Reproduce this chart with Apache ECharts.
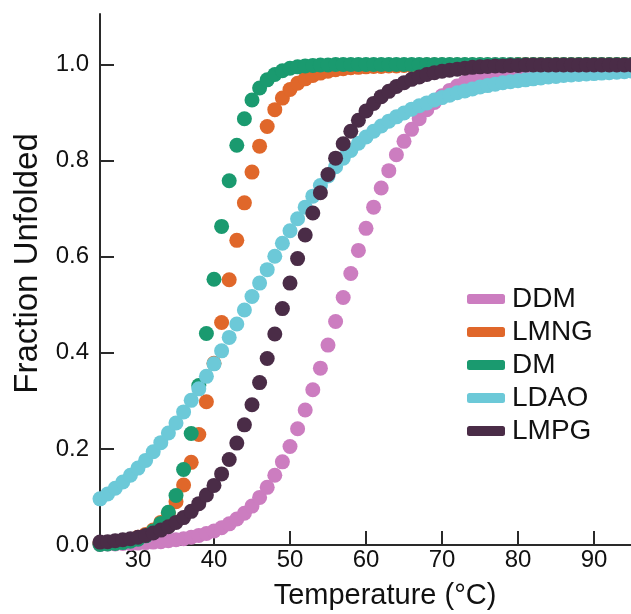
<!DOCTYPE html>
<html>

<head>
    <meta charset="utf-8">
    <title>Fraction Unfolded</title>
    <script src="https://cdn.jsdelivr.net/npm/echarts@6/dist/echarts.min.js"></script>
    <style>
        html, body { margin: 0; padding: 0; background: #fff; }
        #main { width: 631px; height: 614px; }
    </style>
</head>

<body>
    <div id="main"></div>

    <script type="text/javascript">
        // temperature (°C), one reading per degree
        var temps = [25, 26, 27, 28, 29, 30, 31, 32, 33, 34, 35, 36, 37, 38, 39, 40, 41, 42, 43, 44,
            45, 46, 47, 48, 49, 50, 51, 52, 53, 54, 55, 56, 57, 58, 59, 60, 61, 62, 63, 64,
            65, 66, 67, 68, 69, 70, 71, 72, 73, 74, 75, 76, 77, 78, 79, 80, 81, 82, 83, 84,
            85, 86, 87, 88, 89, 90, 91, 92, 93, 94, 95];

        var ddm = [0.001, 0.002, 0.002, 0.003, 0.003, 0.004, 0.005, 0.006, 0.007, 0.009,
            0.011, 0.013, 0.016, 0.020, 0.024, 0.029, 0.036, 0.044, 0.054, 0.066,
            0.081, 0.099, 0.120, 0.145, 0.173, 0.205, 0.242, 0.281, 0.323, 0.368,
            0.416, 0.465, 0.515, 0.565, 0.613, 0.659, 0.703, 0.743, 0.779, 0.812,
            0.840, 0.865, 0.887, 0.906, 0.921, 0.935, 0.946, 0.955, 0.963, 0.970,
            0.975, 0.979, 0.983, 0.986, 0.989, 0.991, 0.992, 0.994, 0.995, 0.996,
            0.997, 0.997, 0.998, 0.998, 0.999, 0.999, 0.999, 0.999, 0.999, 1.0, 1.0];

        var lmng = [0.003, 0.004, 0.005, 0.008, 0.011, 0.016, 0.022, 0.031, 0.047, 0.066,
            0.090, 0.125, 0.172, 0.230, 0.298, 0.378, 0.463, 0.552, 0.634, 0.712,
            0.776, 0.830, 0.871, 0.906, 0.930, 0.948, 0.961, 0.970, 0.977, 0.982,
            0.986, 0.989, 0.991, 0.993, 0.994, 0.995, 0.996, 0.996, 0.997, 0.997,
            0.998, 0.998, 0.998, 0.999, 0.999, 0.999, 0.999, 0.999, 0.999, 0.999,
            0.999, 0.999, 0.999, 0.999, 0.999, 1.0, 1.0, 1.0, 1.0, 1.0,
            1.0, 1.0, 1.0, 1.0, 1.0, 1.0, 1.0, 1.0, 1.0, 1.0, 1.0];

        var dm = [0.001, 0.002, 0.003, 0.005, 0.008, 0.012, 0.019, 0.029, 0.045, 0.068,
            0.103, 0.157, 0.232, 0.332, 0.440, 0.553, 0.663, 0.758, 0.832, 0.887,
            0.926, 0.951, 0.968, 0.979, 0.987, 0.992, 0.995, 0.997, 0.998, 0.999,
            0.999, 1.0, 1.0, 1.0, 1.0, 1.0, 1.0, 1.0, 1.0, 1.0,
            1.0, 1.0, 1.0, 1.0, 1.0, 1.0, 1.0, 1.0, 1.0, 1.0,
            1.0, 1.0, 1.0, 1.0, 1.0, 1.0, 1.0, 1.0, 1.0, 1.0,
            1.0, 1.0, 1.0, 1.0, 1.0, 1.0, 1.0, 1.0, 1.0, 1.0, 1.0];

        var ldao = [0.096, 0.106, 0.118, 0.131, 0.145, 0.160, 0.176, 0.194, 0.213, 0.233,
            0.254, 0.277, 0.301, 0.325, 0.351, 0.377, 0.404, 0.432, 0.460, 0.489,
            0.517, 0.545, 0.573, 0.601, 0.628, 0.654, 0.679, 0.703, 0.726, 0.748,
            0.768, 0.787, 0.805, 0.821, 0.836, 0.849, 0.861, 0.872, 0.882, 0.891,
            0.899, 0.907, 0.914, 0.920, 0.926, 0.931, 0.936, 0.941, 0.945, 0.949,
            0.953, 0.956, 0.959, 0.962, 0.964, 0.966, 0.968, 0.970, 0.972, 0.974,
            0.975, 0.977, 0.978, 0.979, 0.980, 0.981, 0.982, 0.983, 0.984, 0.985, 0.986];

        var lmpg = [0.006, 0.007, 0.009, 0.011, 0.013, 0.016, 0.020, 0.025, 0.031, 0.038,
            0.047, 0.057, 0.070, 0.086, 0.104, 0.124, 0.148, 0.178, 0.212, 0.250,
            0.292, 0.338, 0.388, 0.439, 0.492, 0.545, 0.596, 0.645, 0.691, 0.733,
            0.771, 0.805, 0.835, 0.861, 0.884, 0.903, 0.919, 0.933, 0.944, 0.954,
            0.962, 0.969, 0.974, 0.979, 0.983, 0.986, 0.988, 0.990, 0.992, 0.994,
            0.995, 0.996, 0.997, 0.997, 0.998, 0.998, 0.999, 0.999, 0.999, 0.999,
            0.999, 0.999, 0.999, 0.999, 0.999, 0.999, 0.999, 0.999, 0.999, 0.999, 0.999];

        var names = ['DDM', 'LMNG', 'DM', 'LDAO', 'LMPG'];
        var colors = ['#cc7dc0', '#e0672a', '#1a9a6f', '#6cc9d8', '#4a2c47'];
        var xTicks = [30, 40, 50, 60, 70, 80, 90, 100];
        var yTicks = [0, 0.2, 0.4, 0.6, 0.8, 1.0];

        var chart = echarts.init(document.getElementById('main'), null, { renderer: 'canvas' });
        var font = '"Liberation Sans", Arial, sans-serif';

        function pairs(vals) {
            return temps.map(function (t, i) { return [t, vals[i]]; });
        }

        var allVals = [ddm, lmng, dm, ldao, lmpg];
        var series = names.map(function (n, k) {
            return {
                name: n,
                type: 'scatter',
                data: pairs(allVals[k]),
                symbol: 'circle',
                symbolSize: 15,
                itemStyle: { color: colors[k], opacity: 1 },
                clip: true,
                silent: true
            };
        });

        var axisLineStyle = { color: '#2a2a2a', width: 2 };

        var option = {
            animation: false,
            backgroundColor: '#fff',
            // the plot runs on past the right edge of the picture (axis goes to 100)
            grid: { left: 100, top: 14, right: -39, bottom: 69, outerBoundsMode: 'none', containLabel: false },
            legend: {
                orient: 'vertical',
                left: 467,
                top: 285,
                padding: 0,
                icon: 'roundRect',
                itemWidth: 38,
                itemHeight: 10,
                itemGap: 5,
                data: names,
                textStyle: { fontFamily: font, fontSize: 28, color: '#111', lineHeight: 26, padding: [0, 0, 0, 2] }
            },
            xAxis: {
                type: 'value',
                min: 25,
                max: 100,
                splitLine: { show: false },
                axisLine: { lineStyle: axisLineStyle },
                axisTick: { inside: true, length: 14, lineStyle: axisLineStyle, customValues: xTicks },
                axisLabel: { customValues: xTicks, margin: 3, fontFamily: font, fontSize: 24, color: '#111' },
                name: 'Temperature (°C)',
                nameLocation: 'middle',
                nameGap: 36,
                nameTextStyle: { fontFamily: font, fontSize: 29, color: '#111' }
            },
            yAxis: {
                type: 'value',
                min: 0,
                max: 1.105,
                splitLine: { show: false },
                axisLine: { show: true, lineStyle: axisLineStyle },
                axisTick: { show: true, inside: true, length: 14, lineStyle: axisLineStyle, customValues: yTicks },
                axisLabel: {
                    customValues: yTicks, margin: 11, fontFamily: font, fontSize: 24, color: '#111',
                    formatter: function (v) { return v.toFixed(1); }
                },
                name: 'Fraction Unfolded',
                nameLocation: 'middle',
                nameGap: 51,
                nameTextStyle: { fontFamily: font, fontSize: 33, color: '#111', padding: [0, 0, 0, 32] }
            },
            series: series
        };

        chart.setOption(option);
    </script>
</body>

</html>
